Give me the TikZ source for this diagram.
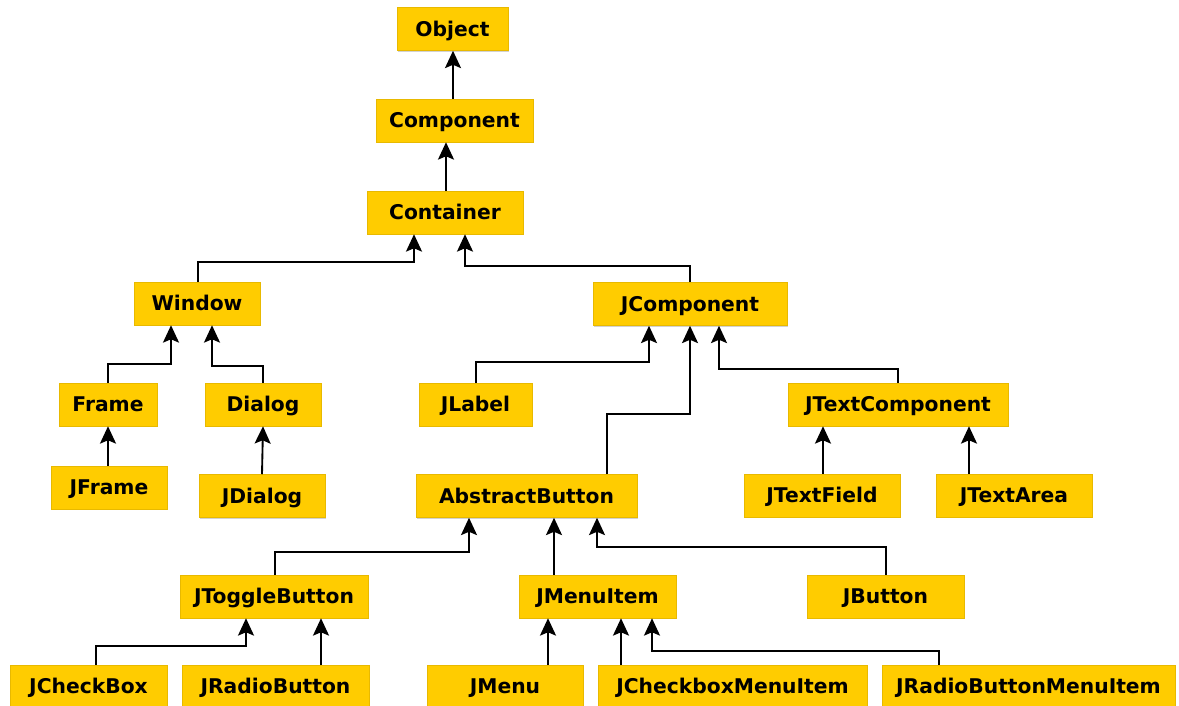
\documentclass[tikz,border=0pt]{standalone}
\usepackage{fontspec}
\setmainfont{DejaVu Sans}
\usetikzlibrary{arrows.meta,calc,shadows}
\definecolor{boxyellow}{HTML}{FFCC00}
\definecolor{boxedge}{HTML}{E8B900}
\tikzset{
  cls/.style={fill=boxyellow, draw=boxedge, line width=0.4pt, inner sep=0pt,
    minimum height=32.25pt, text height=11.1pt, text depth=0pt, text=black,
    font=\bfseries\fontsize{15.2}{18}\selectfont,
    drop shadow={shadow xshift=0.9pt, shadow yshift=-0.9pt, fill=black!35, opacity=0.5}},
  arr/.style={line width=1.4pt, black, -{Stealth[length=13pt, width=12pt, inset=2.5pt]}},
}
\begin{document}
\begin{tikzpicture}[x=0.75pt, y=-0.75pt]
\useasboundingbox (0,0) rectangle (1179,706);
% nodes (centres in px)
\node[cls, minimum width=111*0.75pt] (Object) at (452.5,29) {Object};
\node[cls, minimum width=157*0.75pt] (Component) at (454.5,120.5) {Component};
\node[cls, minimum width=156*0.75pt] (Container) at (445,212.5) {Container};
\node[cls, minimum width=126*0.75pt] (Window) at (197,303.5) {Window};
\node[cls, minimum width=194*0.75pt] (JComponent) at (690,304) {JComponent};
\node[cls, minimum width=98*0.75pt] (Frame) at (108,404.5) {Frame};
\node[cls, minimum width=116*0.75pt] (Dialog) at (263,404.5) {Dialog};
\node[cls, minimum width=113*0.75pt] (JLabel) at (475.5,404.5) {JLabel};
\node[cls, minimum width=220*0.75pt] (JTextComponent) at (898,404.5) {JTextComponent};
\node[cls, minimum width=116*0.75pt] (JFrame) at (109,487.5) {JFrame};
\node[cls, minimum width=126*0.75pt] (JDialog) at (262,496) {JDialog};
\node[cls, minimum width=221*0.75pt] (AbstractButton) at (526.5,496) {AbstractButton};
\node[cls, minimum width=156*0.75pt] (JTextField) at (822,495.5) {JTextField};
\node[cls, minimum width=156*0.75pt] (JTextArea) at (1014,495.5) {JTextArea};
\node[cls, minimum width=188*0.75pt] (JToggleButton) at (274,596.5) {JToggleButton};
\node[cls, minimum width=157*0.75pt] (JMenuItem) at (597.5,596.5) {JMenuItem};
\node[cls, minimum width=157*0.75pt] (JButton) at (885.5,596.5) {JButton};
\node[cls, minimum width=157*0.75pt] (JCheckBox) at (88.5,686.5) {JCheckBox};
\node[cls, minimum width=187*0.75pt] (JRadioButton) at (275.5,686.5) {JRadioButton};
\node[cls, minimum width=156*0.75pt] (JMenu) at (505,686.5) {JMenu};
\node[cls, minimum width=269*0.75pt] (JCheckboxMenuItem) at (732.5,686.5) {JCheckboxMenuItem};
\node[cls, minimum width=293*0.75pt] (JRadioButtonMenuItem) at (1028.5,686.5) {JRadioButtonMenuItem};
% connectors
\draw[arr] ($(Component.north)+(-1.5,0)$) -- ($(Object.south)+(0.5,0)$);
\draw[arr] ($(Container.north)+(1,0)$) -- ($(Component.south)+(-8.5,0)$);
\draw[arr] ($(Window.north)+(1,0)$) -- ++(0,-20) -| ($(Container.south)+(-31,0)$);
\draw[arr] (JComponent.north) -- ++(0,-16) -| ($(Container.south)+(20,0)$);
\draw[arr] (Frame.north) -- ++(0,-19) -| ($(Window.south)+(-26,0)$);
\draw[arr] (Dialog.north) -- ++(0,-17) -| ($(Window.south)+(15,0)$);
\draw[arr] ($(JFrame.north)+(-1,0)$) -- (Frame.south);
\draw[arr] (JDialog.north) -- (Dialog.south);
\draw[arr] ($(JLabel.north)+(0.5,0)$) -- ++(0,-21) -| ($(JComponent.south)+(-41,0)$);
\draw[arr] ($(AbstractButton.north)+(80.5,0)$) -- ++(0,-60) -| (JComponent.south);
\draw[arr] (JTextComponent.north) -- ++(0,-14) -| ($(JComponent.south)+(29,0)$);
\draw[arr] ($(JTextField.north)+(1,0)$) -- ($(JTextComponent.south)+(-75,0)$);
\draw[arr] ($(JTextArea.north)+(-45,0)$) -- ($(JTextComponent.south)+(71,0)$);
\draw[arr] ($(JToggleButton.north)+(1,0)$) -- ++(0,-23) -| ($(AbstractButton.south)+(-57.5,0)$);
\draw[arr] ($(JMenuItem.north)+(-43.5,0)$) -- ($(AbstractButton.south)+(27.5,0)$);
\draw[arr] ($(JButton.north)+(0.5,0)$) -- ++(0,-28) -| ($(AbstractButton.south)+(70.5,0)$);
\draw[arr] ($(JCheckBox.north)+(7.5,0)$) -- ++(0,-19) -| ($(JToggleButton.south)+(-28,0)$);
\draw[arr] ($(JRadioButton.north)+(45.5,0)$) -- ($(JToggleButton.south)+(47,0)$);
\draw[arr] ($(JMenu.north)+(43,0)$) -- ($(JMenuItem.south)+(-49.5,0)$);
\draw[arr] ($(JCheckboxMenuItem.north)+(-111.5,0)$) -- ($(JMenuItem.south)+(23.5,0)$);
\draw[arr] ($(JRadioButtonMenuItem.north)+(-89.5,0)$) -- ++(0,-14) -| ($(JMenuItem.south)+(54.5,0)$);
\end{tikzpicture}
\end{document}
